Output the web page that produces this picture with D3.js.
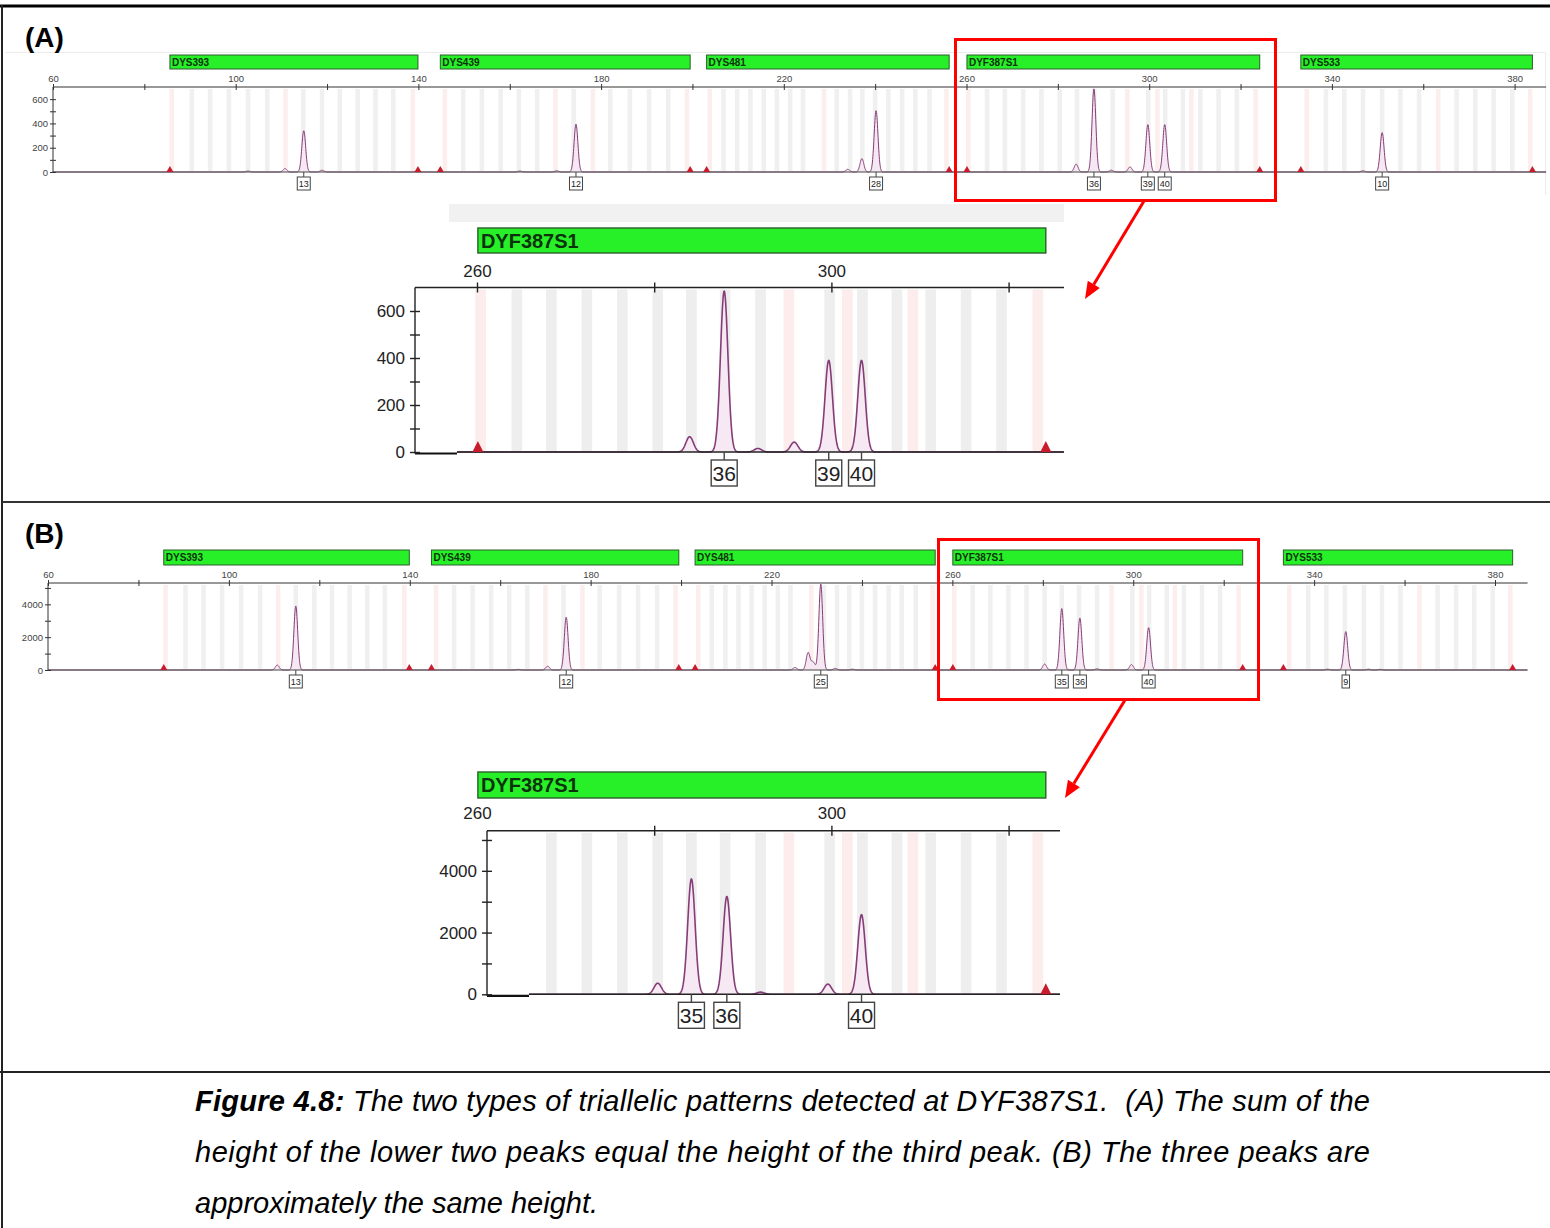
<!DOCTYPE html>
<html>
<head>
<meta charset="utf-8">
<title>DYF387S1 triallelic patterns</title>
<script src="https://cdn.jsdelivr.net/npm/d3@7/dist/d3.min.js"></script>
<style>
  html, body { margin: 0; padding: 0; background: #fff; }
  svg { display: block; }
  .pre { white-space: pre; }
</style>
</head>
<body>
<svg id="fig" width="1550" height="1228"></svg>
<script>
// ---- Y-STR loci of the multiplex (bin range in bp) ----
const lociNames = ["DYS393", "DYS439", "DYS481", "DYF387S1", "DYS533"];
const lociStart = [85.6, 144.8, 203.1, 260.1, 333.2];
const lociEnd   = [139.9, 199.5, 256.2, 324.2, 383.9];

// ---- virtual allele bins (bp) ----
const grayBins = [
  90.4, 94.4, 98.5, 102.7, 106.9, 114.8, 118.9, 122.8, 126.7, 130.6, 134.5,
  149.8, 153.9, 158.0, 162.0, 166.0, 174.0, 182.0, 186.3, 190.5, 194.7,
  206.8, 209.8, 212.7, 215.6, 218.5, 221.4, 224.2, 231.6, 234.5, 237.2, 240.0, 242.9, 245.9, 248.8, 251.9,
  264.5, 268.4, 272.4, 276.4, 280.4, 284.2, 288.0, 292.0, 299.8, 303.5, 307.4, 311.2, 315.2, 319.2,
  338.7, 342.7, 346.8, 351.0, 355.0, 359.1, 367.3, 371.4, 375.4, 379.5
];
const pinkBins = [
  86.0, 110.9, 138.8, 145.8, 170.0, 178.2, 198.8, 203.8, 228.8, 255.6,
  260.4, 295.2, 301.8, 309.2, 323.3, 334.5, 363.3, 383.4
];

// ---- sample (A): called alleles ----
const allelesA = ["13", "12", "28", "36", "39", "40", "10"];
const sizesA   = [114.9, 174.5, 240.2, 287.9, 299.7, 303.4, 351.0];
const heightsA = [340, 395, 505, 685, 390, 390, 325];
// sample (A): stutter and minor artefact peaks
const minorSizesA   = [102.7, 110.8, 118.9, 162.2, 170.3, 234.0, 237.1, 284.0, 291.7, 295.8, 346.8];
const minorHeightsA = [8, 28, 14, 8, 10, 22, 110, 65, 15, 42, 10];

// ---- sample (B): called alleles ----
const allelesB = ["13", "12", "25", "35", "36", "40", "9"];
const sizesB   = [114.8, 174.6, 230.9, 284.2, 288.2, 303.4, 347.0];
const heightsB = [3900, 3220, 5240, 3740, 3170, 2580, 2340];
// sample (B): stutter and minor artefact peaks
const minorSizesB   = [110.7, 164.0, 170.5, 225.2, 228.1, 229.2, 234.1, 237.9, 280.4, 292.0, 299.6, 343.0, 352.0, 354.6];
const minorHeightsB = [300, 40, 230, 150, 1060, 480, 100, 50, 360, 70, 330, 50, 50, 40];

// ---- axis ticks ----
const stripTicks  = [60, 80, 100, 120, 140, 160, 180, 200, 220, 240, 260, 280, 300, 320, 340, 360, 380];
const stripLabels = [60, 100, 140, 180, 220, 260, 300, 340, 380];
const zoomTicks   = [260, 280, 300, 320];
const zoomLabels  = [260, 300];
const rfuTicksA   = [0, 100, 200, 300, 400, 500, 600];
const rfuLabelsA  = [0, 200, 400, 600];
const rfuTicksB   = [0, 1000, 2000, 3000, 4000, 5000];
const rfuLabelsB  = [0, 2000, 4000];

// ---- caption ----
const captionBold = "Figure 4.8:";
const captionLines = [
  " The two types of triallelic patterns detected at DYF387S1.  (A) The sum of the",
  "height of the lower two peaks equal the height of the third peak. (B) The three peaks are",
  "approximately the same height."
];

const FONT = "'Liberation Sans', Arial, Helvetica, sans-serif";
const SIGMA = 0.42;              // peak width (bp)
const svg = d3.select("#fig");
svg.append("rect").attr("width", 1550).attr("height", 1228).attr("fill", "#fff");

// Electropherogram panel: locus bars, bins, trace, axes, allele call boxes
function drawPanel(o) {
  const g = svg.append("g").attr("font-family", FONT);
  const x = d3.scaleLinear().domain([o.bp0, o.bp1]).range([o.px0, o.px1]);
  const y = d3.scaleLinear().domain([0, o.yMax]).range([o.yBase, o.yTop]);
  const xR = x(o.bpEnd);
  const bpL = x.invert(o.plotX);
  const visible = s => s >= bpL && s <= o.bpEnd;

  // bin stripes
  const sw = x(o.bp0 + o.binW) - x(o.bp0);
  const stripes = g.append("g");
  const addBins = (list, color) => list
    .filter(s => x(s) - sw / 2 >= o.plotX && x(s) + sw / 2 <= xR)
    .forEach(s => stripes.append("rect")
      .attr("x", x(s) - sw / 2).attr("y", o.yTop + 2)
      .attr("width", sw).attr("height", o.yBase - o.yTop - 3)
      .attr("fill", color));
  addBins(grayBins, o.grayColor);
  addBins(pinkBins, o.pinkColor);

  // locus bars
  lociNames.forEach((name, i) => {
    if (o.loci && !o.loci.includes(name)) return;
    const x0 = x(lociStart[i]), x1 = x(lociEnd[i]);
    g.append("rect").attr("x", x0).attr("y", o.barY)
      .attr("width", x1 - x0).attr("height", o.barH)
      .attr("fill", "#28f028").attr("stroke", "#2c5e2c").attr("stroke-width", o.barStroke);
    g.append("text").attr("x", x0 + o.barPad).attr("y", o.barY + o.barH / 2).attr("dy", "0.36em")
      .attr("font-size", o.barFont).attr("font-weight", "bold").attr("fill", "#0b330b")
      .text(name);
  });

  // signal trace built from peak sizes and heights
  const sizes = o.sizes.concat(o.minorSizes);
  const heights = o.heights.concat(o.minorHeights);
  const pts = [];
  for (let s = bpL; s <= o.bpEnd; s += o.step) {
    let v = 0;
    sizes.forEach((c, i) => {
      const d = s - c;
      if (Math.abs(d) < 3) v += heights[i] * Math.exp(-d * d / (2 * SIGMA * SIGMA));
    });
    pts.push([s, v]);
  }
  g.append("path").datum(pts)
    .attr("d", d3.area().x(d => x(d[0])).y0(o.yBase).y1(d => y(d[1])))
    .attr("fill", o.peakFill);
  g.append("path").datum(pts)
    .attr("d", d3.line().x(d => x(d[0])).y(d => y(d[1])))
    .attr("fill", "none").attr("stroke", "#853d78").attr("stroke-width", o.peakW)
    .attr("stroke-linejoin", "round");

  // baseline
  if (o.plotX > o.axisX) {
    g.append("line").attr("x1", o.axisX).attr("x2", o.plotX)
      .attr("y1", o.yBase + o.stubDy).attr("y2", o.yBase + o.stubDy)
      .attr("stroke", "#111").attr("stroke-width", 2.2);
  }
  g.append("line").attr("x1", o.plotX).attr("x2", xR)
    .attr("y1", o.yBase).attr("y2", o.yBase)
    .attr("stroke", o.baseColor).attr("stroke-width", o.baseW);

  // red size-standard markers at bin limits
  lociStart.concat(lociEnd).filter(visible).forEach(s => {
    const cx = x(s);
    g.append("path")
      .attr("d", `M${cx - o.triW / 2},${o.yBase} L${cx + o.triW / 2},${o.yBase} L${cx},${o.yBase - o.triH} Z`)
      .attr("fill", "#c81c2c");
  });

  // x axis (size, bp) on top
  g.append("line").attr("x1", o.axisX).attr("x2", xR)
    .attr("y1", o.yTop).attr("y2", o.yTop)
    .attr("stroke", o.axisColor).attr("stroke-width", o.axisW);
  const xt = g.append("g").attr("transform", `translate(0,${o.yTop})`)
    .call(d3.axisTop(x).tickValues(o.xTicks.filter(t => x(t) >= o.axisX - 0.5 && x(t) <= xR))
      .tickSize(o.tick).tickFormat(""));
  xt.select(".domain").remove();
  xt.selectAll("line").attr("y1", o.tick).attr("stroke", o.axisColor).attr("stroke-width", o.axisW);
  const xl = g.append("g").attr("transform", `translate(0,${o.yTop})`)
    .call(d3.axisTop(x).tickValues(o.xLabels).tickSize(0).tickPadding(o.xPad));
  xl.select(".domain").remove();
  xl.selectAll("line").remove();
  xl.attr("font-size", o.font).attr("font-family", FONT).attr("color", o.labelColor);

  // y axis (RFU)
  g.append("line").attr("x1", o.axisX).attr("x2", o.axisX)
    .attr("y1", o.yTop).attr("y2", o.yBase + (o.plotX > o.axisX ? o.stubDy : 0))
    .attr("stroke", o.axisColor).attr("stroke-width", o.axisW);
  const ya = g.append("g").attr("transform", `translate(${o.axisX},0)`)
    .call(d3.axisLeft(y).tickValues(o.yTicks).tickSize(o.tick).tickPadding(o.yPad)
      .tickFormat(v => o.yLabels.includes(v) ? v : ""));
  ya.select(".domain").remove();
  ya.selectAll("line").attr("x1", o.tick).attr("stroke", o.axisColor).attr("stroke-width", o.axisW);
  ya.attr("font-size", o.font).attr("font-family", FONT).attr("color", o.labelColor);

  // allele call boxes
  o.alleles.forEach((lab, i) => {
    const s = o.sizes[i];
    if (!visible(s)) return;
    const cx = x(s), w = o.boxCharW * lab.length + o.boxPad;
    const top = o.yBase + o.boxGap;
    g.append("line").attr("x1", cx).attr("x2", cx).attr("y1", o.yBase).attr("y2", top)
      .attr("stroke", "#444").attr("stroke-width", o.boxStroke);
    g.append("rect").attr("x", cx - w / 2).attr("y", top).attr("width", w).attr("height", o.boxH)
      .attr("fill", "#fff").attr("stroke", "#444").attr("stroke-width", o.boxStroke);
    g.append("text").attr("x", cx).attr("y", top + o.boxH / 2).attr("dy", "0.36em")
      .attr("text-anchor", "middle").attr("font-size", o.boxFont).attr("fill", "#222")
      .text(lab);
  });
}

const stripBase = {
  bp0: 60, bp1: 380, xTicks: stripTicks, xLabels: stripLabels,
  tick: 3, font: 9.5, xPad: 5, yPad: 2, axisColor: "#333", axisW: 1, labelColor: "#444",
  barFont: 10, barPad: 2, barStroke: 1, binW: 1.0,
  grayColor: "#f0f0f0", pinkColor: "#fdeeee",
  baseColor: "#444", baseW: 1, step: 0.05, peakW: 1, peakFill: "#f6e8f2",
  triW: 7, triH: 6, stubDy: 0,
  boxH: 13, boxGap: 5, boxCharW: 5.5, boxPad: 2, boxFont: 9, boxStroke: 1
};
const zoomBase = {
  bp0: 260, bp1: 320, px0: 477, px1: 1008.6, xTicks: zoomTicks, xLabels: zoomLabels,
  tick: 5, font: 17, yPad: 5, axisColor: "#222", axisW: 1.4, labelColor: "#222",
  barFont: 20, barPad: 3, barStroke: 1.4, binW: 1.2, loci: ["DYF387S1"],
  grayColor: "#eeeeee", pinkColor: "#fcecec",
  baseColor: "#222", baseW: 1.5, step: 0.04, peakW: 1.6, peakFill: "#f7e9f3",
  triW: 11, triH: 11, stubDy: 1.5,
  boxH: 26, boxGap: 8, boxCharW: 11, boxPad: 4, boxFont: 21, boxStroke: 1.4
};

// ---------- frame ----------
const frame = svg.append("g").attr("fill", "none");
frame.append("line").attr("x1", 0).attr("x2", 1550).attr("y1", 6).attr("y2", 6).attr("stroke", "#000").attr("stroke-width", 3);
frame.append("line").attr("x1", 2).attr("x2", 2).attr("y1", 5).attr("y2", 1228).attr("stroke", "#222").attr("stroke-width", 2);
frame.append("line").attr("x1", 2).attr("x2", 1550).attr("y1", 502).attr("y2", 502).attr("stroke", "#333").attr("stroke-width", 2);
frame.append("line").attr("x1", 0).attr("x2", 1550).attr("y1", 1072).attr("y2", 1072).attr("stroke", "#222").attr("stroke-width", 2);
frame.append("path").attr("d", "M5,52.5 H1545.5 V195").attr("stroke", "#ececec").attr("stroke-width", 1);

// panel letters
svg.append("text").attr("x", 25).attr("y", 47).attr("font-family", FONT).attr("font-weight", "bold")
  .attr("font-size", 28).text("(A)");
svg.append("text").attr("x", 25).attr("y", 543).attr("font-family", FONT).attr("font-weight", "bold")
  .attr("font-size", 28).text("(B)");

// ---------- (A) full profile ----------
drawPanel(Object.assign({}, stripBase, {
  px0: 53, px1: 1514.6, bpEnd: 386.9, axisX: 53, plotX: 53,
  yMax: 700, yBase: 172, yTop: 87, yTicks: rfuTicksA, yLabels: rfuLabelsA,
  barY: 55, barH: 14,
  alleles: allelesA, sizes: sizesA, heights: heightsA,
  minorSizes: minorSizesA, minorHeights: minorHeightsA
}));

// (A) DYF387S1 enlarged
svg.append("rect").attr("x", 449).attr("y", 204).attr("width", 615).attr("height", 18).attr("fill", "#f1f1f1");
drawPanel(Object.assign({}, zoomBase, {
  bpEnd: 326.25, axisX: 415, plotX: 457,
  yMax: 700, yBase: 452, yTop: 287.5, yTicks: rfuTicksA, yLabels: rfuLabelsA, xPad: 11,
  barY: 228, barH: 25,
  alleles: allelesA, sizes: sizesA, heights: heightsA,
  minorSizes: minorSizesA, minorHeights: minorHeightsA
}));

// ---------- (B) full profile ----------
drawPanel(Object.assign({}, stripBase, {
  px0: 48, px1: 1495, bpEnd: 387.2, axisX: 48, plotX: 48,
  yMax: 5300, yBase: 670, yTop: 583, yTicks: rfuTicksB, yLabels: rfuLabelsB,
  barY: 550, barH: 15,
  alleles: allelesB, sizes: sizesB, heights: heightsB,
  minorSizes: minorSizesB, minorHeights: minorHeightsB
}));

// (B) DYF387S1 enlarged
drawPanel(Object.assign({}, zoomBase, {
  bpEnd: 325.8, axisX: 487, plotX: 529,
  yMax: 5300, yBase: 994.3, yTop: 830.7, yTicks: rfuTicksB, yLabels: rfuLabelsB, xPad: 12,
  barY: 772, barH: 26,
  alleles: allelesB, sizes: sizesB, heights: heightsB,
  minorSizes: minorSizesB, minorHeights: minorHeightsB
}));

// ---------- highlight boxes and arrows ----------
function arrow(x1, y1, x2, y2) {
  const a = Math.atan2(y2 - y1, x2 - x1), L = 17, W = 7;
  const bx = x2 - L * Math.cos(a), by = y2 - L * Math.sin(a);
  svg.append("line").attr("x1", x1).attr("y1", y1).attr("x2", bx).attr("y2", by)
    .attr("stroke", "#f00").attr("stroke-width", 3);
  svg.append("path")
    .attr("d", `M${x2},${y2} L${bx + W * Math.sin(a)},${by - W * Math.cos(a)} L${bx - W * Math.sin(a)},${by + W * Math.cos(a)} Z`)
    .attr("fill", "#f00");
}
svg.append("rect").attr("x", 955.5).attr("y", 39.5).attr("width", 320).attr("height", 161)
  .attr("fill", "none").attr("stroke", "#f00").attr("stroke-width", 3);
arrow(1144, 201, 1085, 299);
svg.append("rect").attr("x", 938.5).attr("y", 539.5).attr("width", 320).attr("height", 160)
  .attr("fill", "none").attr("stroke", "#f00").attr("stroke-width", 3);
arrow(1125, 700, 1065, 798);

// ---------- caption ----------
const cap = svg.append("g").attr("font-family", FONT).attr("font-style", "italic")
  .attr("font-size", 29).attr("fill", "#000");
const l1 = cap.append("text").attr("class", "pre").attr("x", 195).attr("y", 1111)
  .attr("textLength", 1175).attr("lengthAdjust", "spacing");
l1.append("tspan").attr("font-weight", "bold").text(captionBold);
l1.append("tspan").text(captionLines[0]);
cap.append("text").attr("class", "pre").attr("x", 195).attr("y", 1162)
  .attr("textLength", 1175).attr("lengthAdjust", "spacing").text(captionLines[1]);
cap.append("text").attr("class", "pre").attr("x", 195).attr("y", 1213)
  .text(captionLines[2]);
</script>
</body>
</html>
